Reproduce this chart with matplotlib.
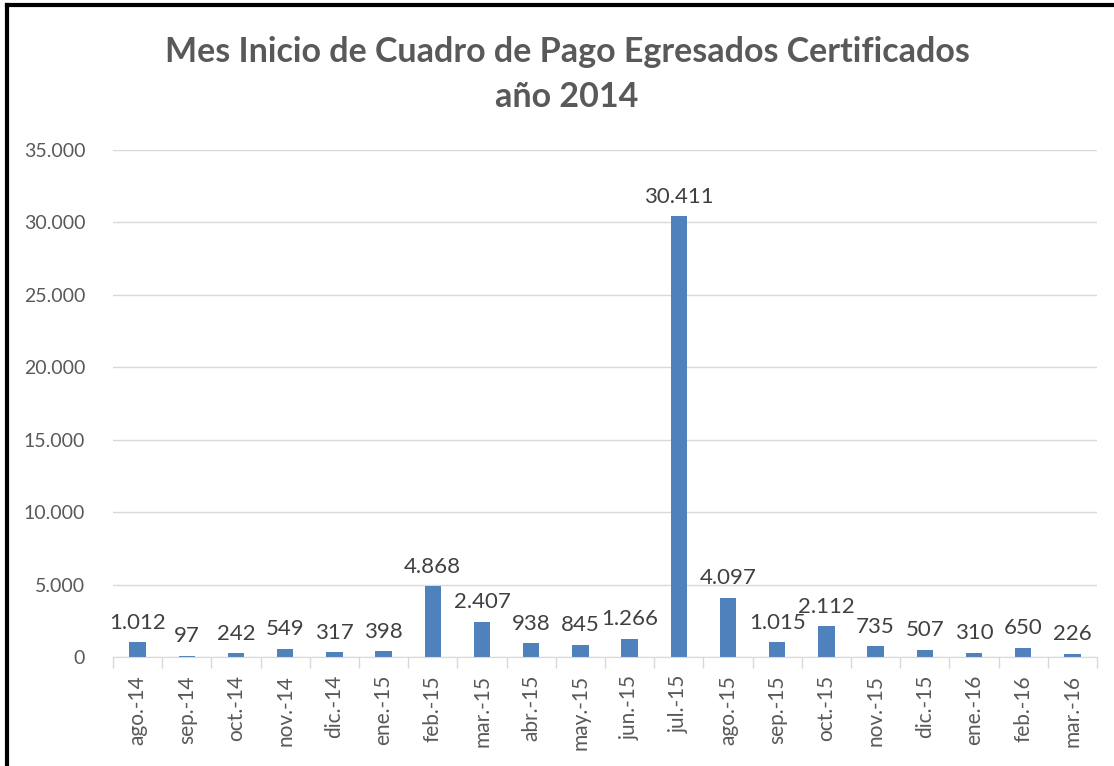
import matplotlib
matplotlib.use("Agg")
import matplotlib.pyplot as plt
from matplotlib.lines import Line2D

categories = ["ago.-14", "sep.-14", "oct.-14", "nov.-14", "dic.-14", "ene.-15",
              "feb.-15", "mar.-15", "abr.-15", "may.-15", "jun.-15", "jul.-15",
              "ago.-15", "sep.-15", "oct.-15", "nov.-15", "dic.-15", "ene.-16",
              "feb.-16", "mar.-16"]
values = [1012, 97, 242, 549, 317, 398, 4868, 2407, 938, 845, 1266, 30411,
          4097, 1015, 2112, 735, 507, 310, 650, 226]
yticks = [0, 5000, 10000, 15000, 20000, 25000, 30000, 35000]

plt.rcParams['font.family'] = ['Lato', 'DejaVu Sans']

def fmt(v):
    return f"{v:,}".replace(",", ".")

fig = plt.figure(figsize=(11.14, 7.66), dpi=100)
ax = fig.add_axes([113/1114, 1 - 657/766, (1097-113)/1114, (657-150)/766])

x = list(range(len(categories)))
bars = ax.bar(x, values, width=0.33, color="#4F81BD", zorder=3)
for xi, v in zip(x, values):
    ax.annotate(fmt(v), (xi, v), xytext=(0, 7), textcoords="offset points",
                ha="center", va="bottom", fontsize=16, color="#404040")

ax.set_xlim(-0.5, len(categories) - 0.5)
ax.set_ylim(0, 35000)
ax.set_yticks(yticks)
ax.set_yticklabels([fmt(t) for t in yticks], fontsize=14, color="#595959")
ax.yaxis.grid(True, color="#D9D9D9", linewidth=1, zorder=0)
ax.tick_params(axis="y", length=0, pad=20)
ax.set_xticks(x)
ax.set_xticklabels(categories, rotation=90, fontsize=15, color="#595959")
ax.tick_params(axis="x", length=0, pad=13)
ax.set_xticks([i + 0.5 for i in range(-1, len(categories))], minor=True)
ax.tick_params(axis="x", which="minor", length=8, color="#D9D9D9", width=1)
for s in ["top", "right", "left"]:
    ax.spines[s].set_visible(False)
ax.spines["bottom"].set_color("#D9D9D9")
ax.spines["bottom"].set_zorder(4)

fig.text(567/1114, 1 - 52/766, "Mes Inicio de Cuadro de Pago Egresados Certificados",
         ha="center", va="center", fontsize=24.5, fontweight="bold", color="#595959")
fig.text(567/1114, 1 - 97/766, "año 2014",
         ha="center", va="center", fontsize=24.5, fontweight="bold", color="#595959")

# partial black border (left and top) as in the cropped reference
fig.add_artist(Line2D([7/1114, 7/1114], [0, 1 - 5/766], transform=fig.transFigure,
                      color="black", linewidth=3))
fig.add_artist(Line2D([7/1114, 1], [1 - 5/766, 1 - 5/766], transform=fig.transFigure,
                      color="black", linewidth=3))

fig.savefig("out.png", dpi=100)
